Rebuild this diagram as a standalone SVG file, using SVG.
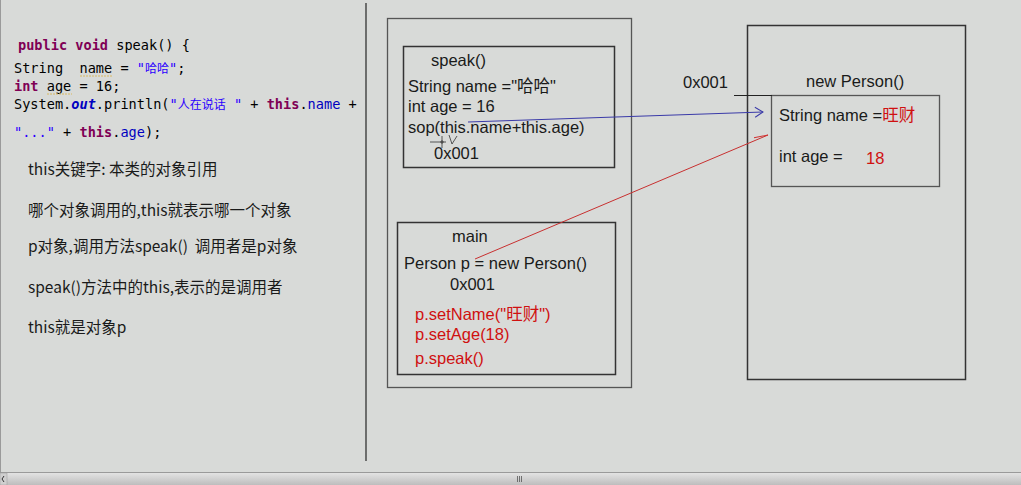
<svg xmlns="http://www.w3.org/2000/svg" width="1021" height="485" viewBox="0 0 1021 485">
<style>
.code{font-family:"DejaVu Sans Mono","Liberation Mono","Noto Sans CJK SC",monospace;font-size:13.6px;fill:#000;white-space:pre}
.kw{fill:#7f0055;font-weight:bold}
.str{fill:#2a00ff}
.fld{fill:#0000c0}
.cjk{font-family:"Noto Sans CJK SC",sans-serif;font-size:12px}
.n{font-family:"Noto Sans CJK SC",sans-serif;font-size:15.5px;fill:#1a1a1a;white-space:pre}
.t{font-family:"Liberation Sans","Noto Sans CJK SC",sans-serif;font-size:16.5px;fill:#1a1a1a}
.r{fill:#d01010}
.box{fill:none;stroke:#333;stroke-width:1.5}
.box2{fill:none;stroke:#555;stroke-width:1.3}
</style>
<defs>
<marker id="ab" markerWidth="12" markerHeight="12" refX="10" refY="6" orient="auto" markerUnits="userSpaceOnUse">
<path d="M2,1 L10,6 L2,11" fill="none" stroke="#3a3aa8" stroke-width="1"/>
</marker>
<marker id="ar" markerWidth="16" markerHeight="12" refX="14" refY="6" orient="auto" markerUnits="userSpaceOnUse">
<path d="M0,3 L14,6" fill="none" stroke="#d03030" stroke-width="1"/>
</marker>
<linearGradient id="sb" x1="0" y1="0" x2="0" y2="1">
<stop offset="0" stop-color="#e6e6e6"/>
<stop offset="1" stop-color="#bdbdbd"/>
</linearGradient>
</defs>
<rect x="0" y="0" width="1021" height="485" fill="#d8dad8"/>
<line x1="0.5" y1="0" x2="0.5" y2="472" stroke="#9a9a9a" stroke-width="1"/>
<line x1="366" y1="3" x2="366" y2="461" stroke="#333" stroke-width="1.3"/>

<g id="code">
<text class="code" x="18" y="50"><tspan class="kw">public</tspan> <tspan class="kw">void</tspan> speak() {</text>
<text class="code" x="14" y="73" xml:space="preserve">String  name = <tspan class="str">"<tspan class="cjk">哈哈</tspan>"</tspan>;</text>
<line x1="80" y1="76" x2="113" y2="76" stroke="#d8b860" stroke-width="1" stroke-dasharray="2,1"/>
<text class="code" x="14" y="91"><tspan class="kw">int</tspan> age = 16;</text>
<line x1="47" y1="94" x2="72" y2="94" stroke="#d8b860" stroke-width="1" stroke-dasharray="2,1"/>
<text class="code" x="14" y="109">System.<tspan class="fld" font-weight="bold" font-style="italic">out</tspan>.println(<tspan class="str">"<tspan class="cjk">人在说话</tspan> "</tspan> + <tspan class="kw">this</tspan>.<tspan class="fld">name</tspan> +</text>
<text class="code" x="14" y="137"><tspan class="str">"..."</tspan> + <tspan class="kw">this</tspan>.<tspan class="fld">age</tspan>);</text>
</g>

<g id="notes">
<text class="n" x="28" y="175">this关键字: 本类的对象引用</text>
<text class="n" x="28" y="216">哪个对象调用的,this就表示哪一个对象</text>
<text class="n" x="28" y="252" xml:space="preserve">p对象,调用方法speak()  调用者是p对象</text>
<text class="n" x="28" y="293">speak()方法中的this,表示的是调用者</text>
<text class="n" x="28" y="333">this就是对象p</text>
</g>

<g id="stack">
<rect class="box2" x="387.5" y="18.5" width="244" height="369"/>
</g>
<g id="speak">
<rect class="box" x="403.5" y="46.5" width="211" height="121"/>
<text class="t" x="431" y="66">speak()</text>
<text class="t" x="408" y="92">String name ="哈哈"</text>
<text class="t" x="408" y="112">int age = 16</text>
<text class="t" x="408" y="133">sop(this.name+this.age)</text>
<text class="t" x="434" y="159">0x001</text>
<g stroke="#333" stroke-width="0.8" fill="none">
<line x1="430" y1="142" x2="446" y2="142"/>
<line x1="442" y1="136" x2="442" y2="148"/>
<circle cx="442" cy="142" r="1.2"/>
<path d="M449,135 L452,144 L457,136"/>
</g>
</g>
<g id="main">
<rect class="box" x="397.5" y="222.5" width="218" height="152"/>
<text class="t" x="452" y="242">main</text>
<text class="t" x="404" y="269">Person p = new Person()</text>
<text class="t" x="450" y="290">0x001</text>
<text class="t r" x="415" y="320">p.setName("旺财")</text>
<text class="t r" x="415" y="340">p.setAge(18)</text>
<text class="t r" x="415" y="364">p.speak()</text>
</g>

<g id="heap">
<rect class="box" x="747.5" y="25.5" width="218" height="354"/>
<text class="t" x="806" y="87">new Person()</text>
<text class="t" x="683" y="88">0x001</text>
</g>
<g id="person">
<rect class="box2" x="771.5" y="95.5" width="168" height="91"/>
<text class="t" x="779" y="121">String name =<tspan class="r">旺财</tspan></text>
<text class="t" x="779" y="162">int age =</text>
<text class="t r" x="866" y="164">18</text>
</g>

<g id="connectors">
<line x1="734" y1="95.5" x2="772" y2="95.5" stroke="#222" stroke-width="1"/>
<line x1="468" y1="122" x2="763" y2="112" stroke="#3a3aa8" stroke-width="1" marker-end="url(#ab)"/>
<line x1="475" y1="259" x2="768" y2="135" stroke="#c83030" stroke-width="1" marker-end="url(#ar)"/>
</g>

<g id="scrollbar">
<rect x="0" y="472" width="1021" height="13" fill="url(#sb)"/>
<line x1="0" y1="472.5" x2="1021" y2="472.5" stroke="#9a9a9a"/>
<rect x="0" y="473" width="7" height="12" fill="#cfcfcf" stroke="#999" stroke-width="0.5"/>
<path d="M4,476 L2,479 L4,482" fill="none" stroke="#333"/>
<g stroke="#555" stroke-width="0.8">
<line x1="517.5" y1="476" x2="517.5" y2="482"/>
<line x1="519.5" y1="476" x2="519.5" y2="482"/>
<line x1="521.5" y1="476" x2="521.5" y2="482"/>
</g>
</g>
</svg>
